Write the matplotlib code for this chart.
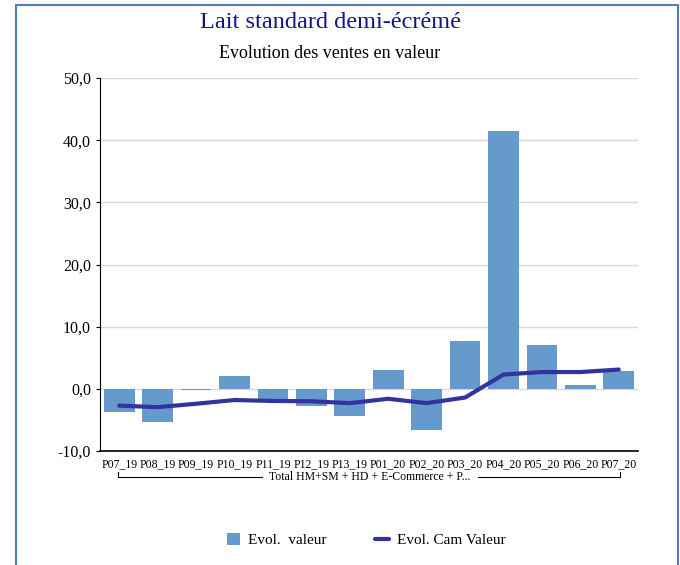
import matplotlib
matplotlib.use("Agg")
import matplotlib.pyplot as plt
from matplotlib.patches import Rectangle
from matplotlib.lines import Line2D

categories = ["P07_19", "P08_19", "P09_19", "P10_19", "P11_19", "P12_19", "P13_19",
              "P01_20", "P02_20", "P03_20", "P04_20", "P05_20", "P06_20", "P07_20"]
evol_valeur = [-3.8, -5.4, -0.2, 2.0, -1.6, -2.7, -4.3, 3.0, -6.6, 7.7, 41.4, 7.1, 0.6, 2.9]
evol_cam = [-2.7, -2.95, -2.4, -1.8, -1.95, -2.0, -2.3, -1.6, -2.3, -1.4, 2.3, 2.7, 2.7, 3.1]
yticks = [-10, 0, 10, 20, 30, 40, 50]
group_label = "Total HM+SM + HD + E-Commerce + P..."

plt.rcParams['font.family'] = ['Liberation Serif', 'DejaVu Serif']

W, H = 680, 565
fig = plt.figure(figsize=(W / 100, H / 100), dpi=100)

ax = fig.add_axes([100 / W, 1 - 451 / H, (638 - 100) / W, (451 - 78) / H])
x = list(range(len(categories)))
bars = ax.bar(x, evol_valeur, width=0.8, color="#6699cc", zorder=2, label="Evol.  valeur")
line, = ax.plot(x, evol_cam, color="#3333a0", lw=3, zorder=3, label="Evol. Cam Valeur",
                solid_capstyle="round")

ax.set_ylim(-10, 50)
ax.set_xlim(-0.5, len(categories) - 0.5)
ax.set_yticks(yticks)
ax.set_yticklabels([f"{v:.1f}".replace(".", ",") for v in yticks], fontsize=11.5)
ax.set_xticks(x)
ax.set_xticklabels(categories, fontsize=8.5)
ax.tick_params(axis="x", length=0, pad=5)
ax.tick_params(axis="y", length=3, direction="out", width=0.8)
ax.grid(axis="y", color="#d9d9d9", lw=1, zorder=0)
for s in ["top", "right"]:
    ax.spines[s].set_visible(False)
ax.spines["left"].set_color("black")
ax.spines["bottom"].set_color("black")
ax.spines["bottom"].set_linewidth(1.2)

# group bracket
fig.add_artist(Line2D([118 / W, 118 / W, 262 / W], [1 - 472 / H, 1 - 477 / H, 1 - 477 / H],
                      color="black", lw=0.8))
fig.add_artist(Line2D([478 / W, 620 / W, 620 / W], [1 - 477 / H, 1 - 477 / H, 1 - 472 / H],
                      color="black", lw=0.8))
fig.text(370 / W, 1 - 477 / H, group_label, ha="center", va="center", fontsize=8.5)

# titles
fig.text(330 / W, 1 - 23 / H, "Lait standard demi-écrémé", ha="center", va="center",
         fontsize=17.5, color="#141489")
fig.text(330 / W, 1 - 53 / H, "Evolution des ventes en valeur", ha="center", va="center",
         fontsize=13, color="black")

# legend
fig.legend([bars, line], ["Evol.  valeur", "Evol. Cam Valeur"], loc="center",
           bbox_to_anchor=(366 / W, 1 - 540 / H), ncol=2,
           frameon=False, fontsize=11, handlelength=0.9, handleheight=0.9,
           columnspacing=3.2, handletextpad=0.5)

# border
fig.add_artist(Rectangle((16 / W, -0.01), (678 - 16) / W, 1 - 5 / H + 0.01,
                         fill=False, edgecolor="#4f81bd", lw=1.5, transform=fig.transFigure))

fig.savefig("out.png", dpi=100, facecolor="white")
